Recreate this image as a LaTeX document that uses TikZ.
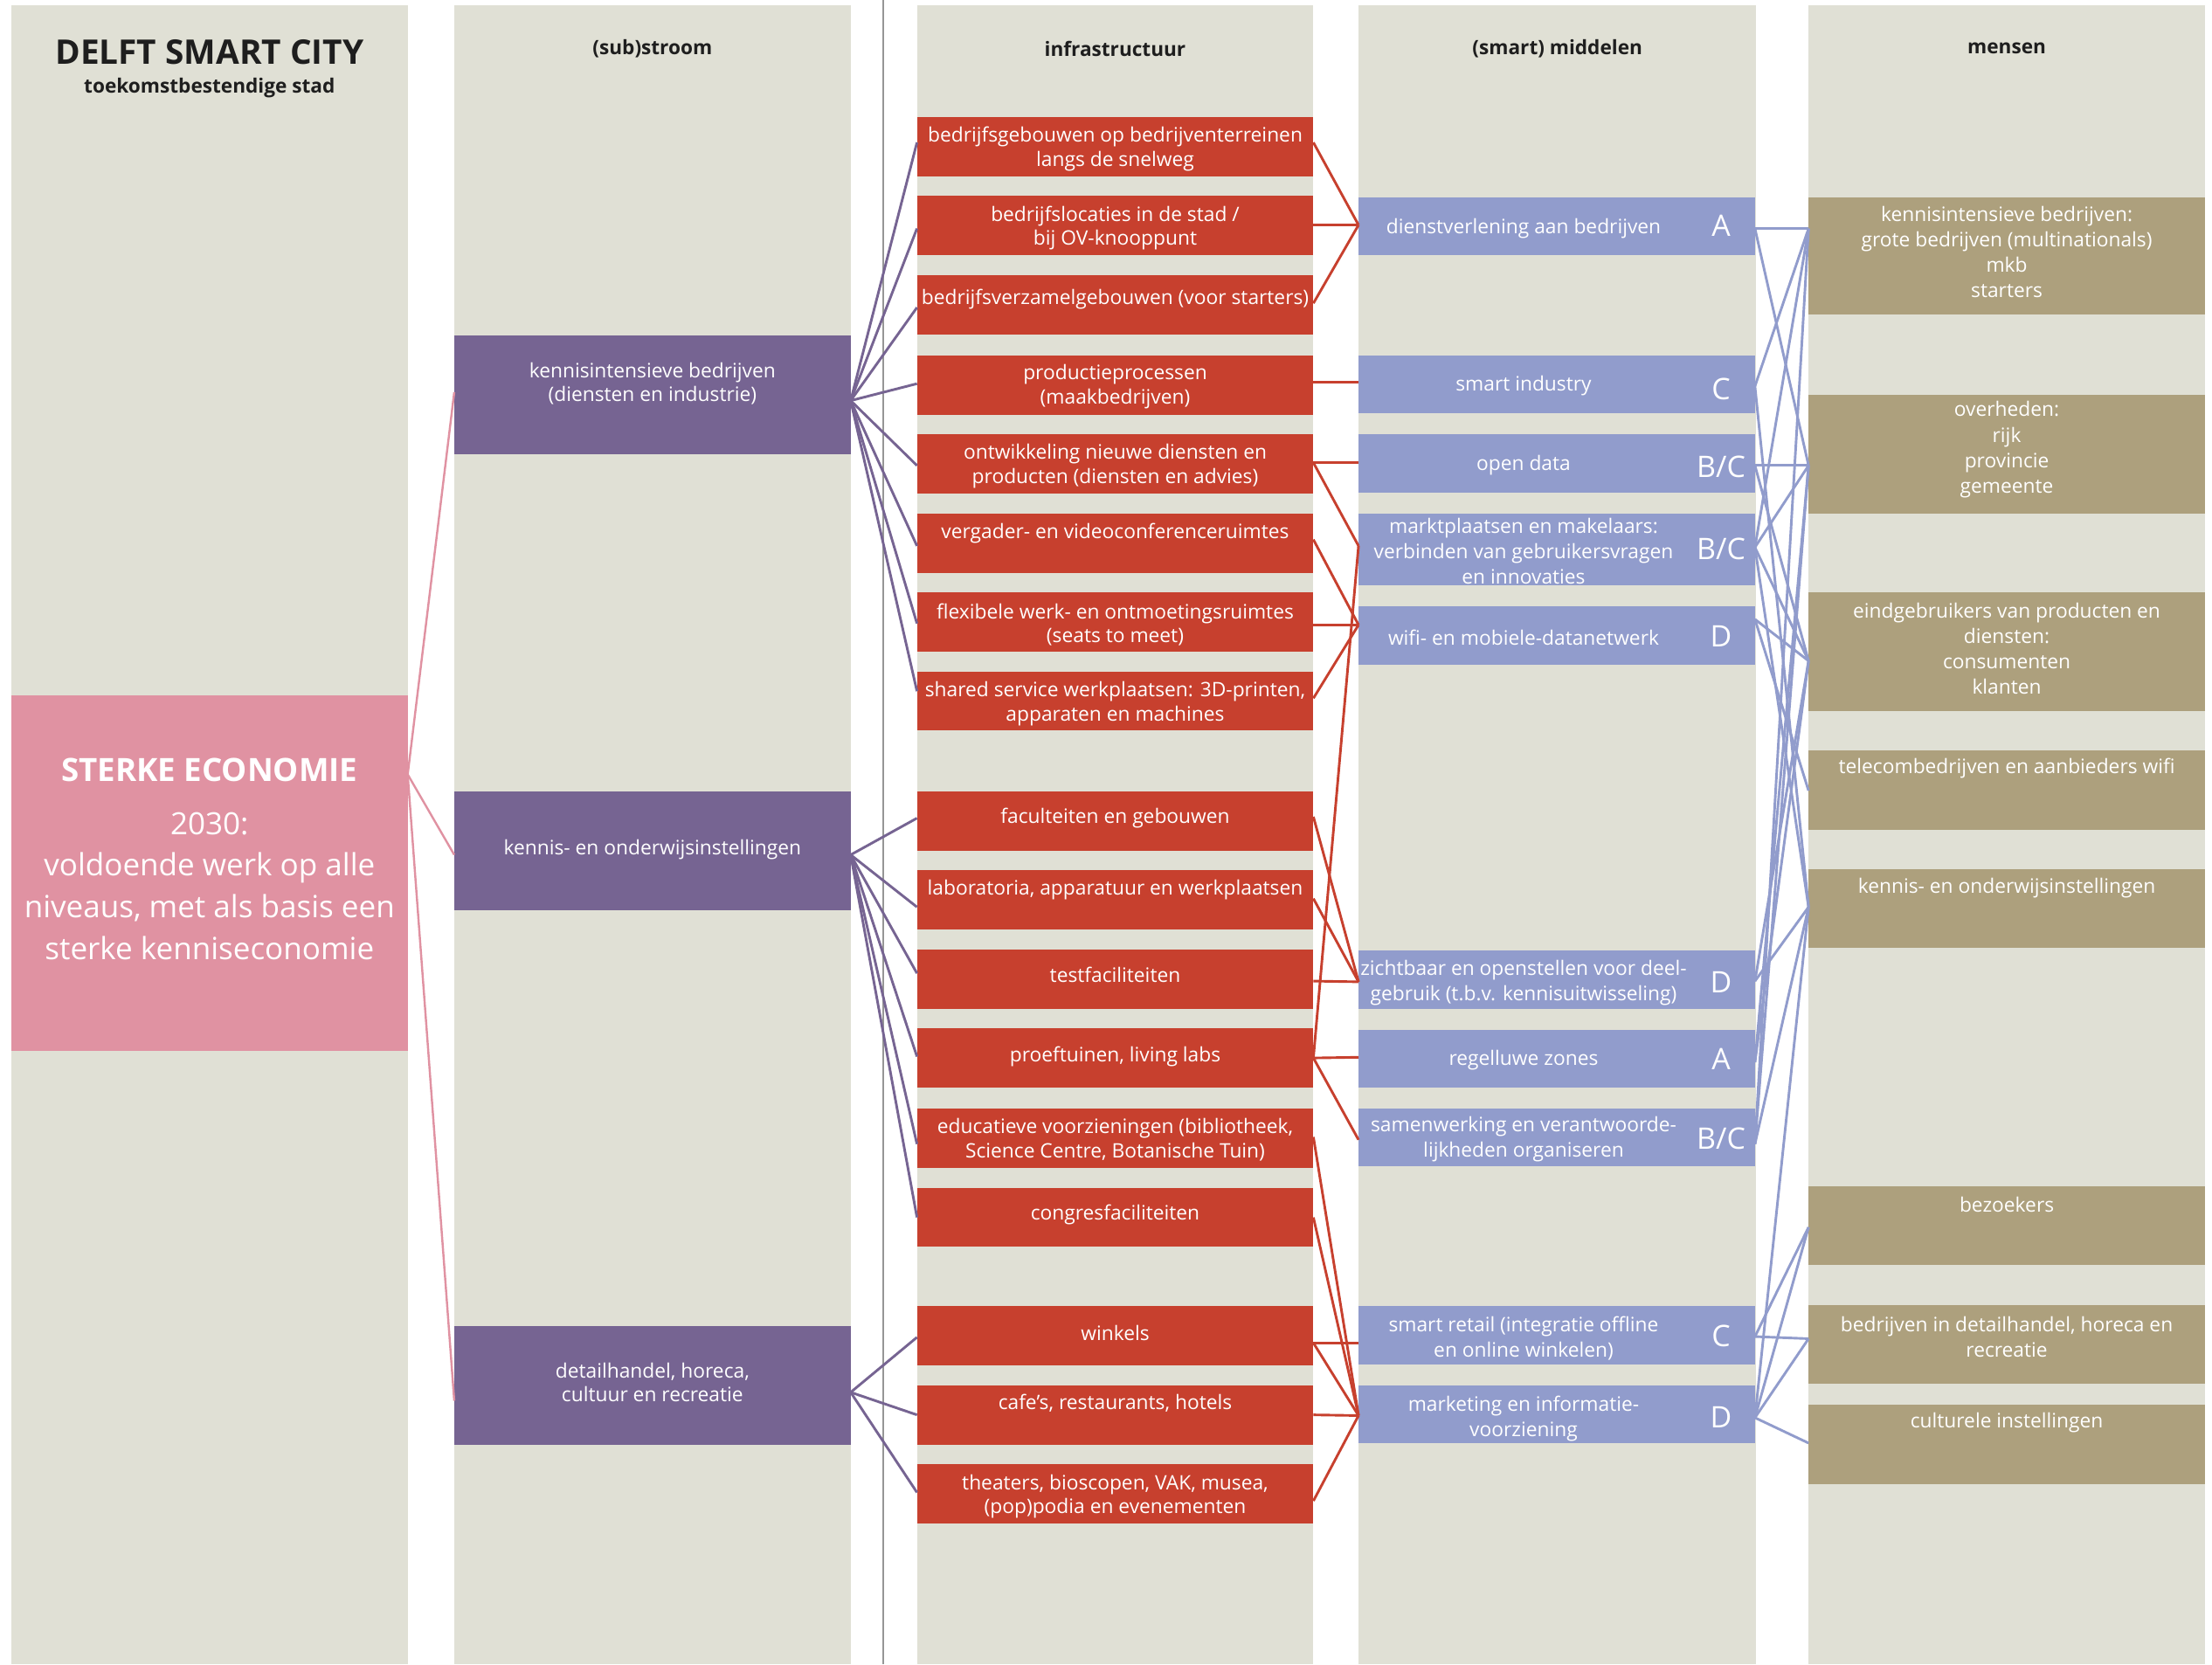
\documentclass[tikz,border=0pt]{standalone}
\usepackage{fontspec}
\setmainfont{Open Sans}
\usetikzlibrary{calc}
\definecolor{bgc}{RGB}{224,224,213}
\definecolor{pinkc}{RGB}{224,146,162}
\definecolor{purc}{RGB}{118,100,146}
\definecolor{redc}{RGB}{199,64,46}
\definecolor{bluec}{RGB}{145,156,204}
\definecolor{khac}{RGB}{173,160,125}
\definecolor{darkt}{RGB}{30,30,30}
\definecolor{vline}{RGB}{150,150,150}
\begin{document}
\begin{tikzpicture}[x=1pt,y=-1pt,
  box/.style={draw=none,minimum width=281pt,inner sep=0pt,outer sep=0pt,anchor=north west},
  redbox/.style={box,fill=redc,minimum height=42pt},
  bluebox/.style={box,fill=bluec,minimum height=41pt},
  purbox/.style={box,fill=purc,minimum height=84pt},
  khabox/.style={box,fill=khac,minimum height=56pt},
  pinkbox/.style={box,fill=pinkc,minimum height=252pt},
  wt/.style={text=white,font=\fontsize{14.1}{17}\selectfont,align=center,inner sep=0pt,yshift=-2pt},
  wtk/.style={text=white,font=\fontsize{14.1}{18}\selectfont,align=center,inner sep=0pt,yshift=-1.7pt},
  letter/.style={text=white,font=\fontsize{21}{24}\selectfont,inner sep=0pt},
  hdr/.style={text=darkt,font=\bfseries\fontsize{14}{16}\selectfont,inner sep=0pt,yshift=-1.5pt},
  redline/.style={draw=redc,line width=1.8pt},
  purline/.style={draw=purc,line width=1.8pt},
  blueline/.style={draw=bluec,line width=1.8pt},
  pinkline/.style={draw=pinkc,line width=1.5pt},
]
\useasboundingbox (0,0) rectangle (1568,1180);
\fill[white] (0,0) rectangle (1568,1180);
% column backgrounds
\fill[bgc] (8,4) rectangle (289,1180);
\fill[bgc] (322,4) rectangle (603,1180);
\fill[bgc] (650,4) rectangle (931,1180);
\fill[bgc] (963,4) rectangle (1245,1180);
\fill[bgc] (1282,4) rectangle (1563,1180);
\draw[vline,line width=1.5pt] (626,0) -- (626,1180);

% headers
\node[text=darkt,font=\bfseries\fontsize{24}{28}\selectfont,inner sep=0pt] (t1) at (148.5,37) {DELFT SMART CITY};
\node[text=darkt,font=\bfseries\fontsize{14}{16}\selectfont,inner sep=0pt] (t2) at (148.5,62.5) {toekomstbestendige stad};
\node[hdr] (h2) at (462.5,33) {(sub)stroom};
\node[hdr] (h3) at (790.5,33) {infrastructuur};
\node[hdr] (h4) at (1104,33) {(smart) middelen};
\node[hdr] (h5) at (1422.5,33) {mensen};

% pink box
\node[pinkbox] (se) at (8,493) {};
\node[text=white,font=\bfseries\fontsize{22.7}{26}\selectfont,inner sep=0pt] (se1) at (148.5,546) {STERKE ECONOMIE};
\node[text=white,font=\fontsize{21.7}{29.5}\selectfont,align=center,inner sep=0pt] (se2) at (148.5,628) {2030:\\voldoende werk op alle\\niveaus, met als basis een\\sterke kenniseconomie};

% purple boxes
\node[purbox] (k1) at (322,238) {};
\node[purbox] (k2) at (322,561) {};
\node[purbox] (k3) at (322,940) {};
\node[wt] (k1t) at (462.5,270) {kennisintensieve bedrijven\\(diensten en industrie)};
\node[wt] (k2t) at (462.5,600) {kennis- en onderwijsinstellingen};
\node[wt] (k3t) at (462.5,978) {detailhandel, horeca,\\cultuur en recreatie};

% red boxes
\node[redbox] (r1) at (650,83) {};
\node[redbox] (r2) at (650,139) {};
\node[redbox] (r3) at (650,195) {};
\node[redbox] (r4) at (650,252) {};
\node[redbox] (r5) at (650,308) {};
\node[redbox] (r6) at (650,364) {};
\node[redbox] (r7) at (650,420) {};
\node[redbox] (r8) at (650,476) {};
\node[redbox] (r9) at (650,561) {};
\node[redbox] (r10) at (650,617) {};
\node[redbox] (r11) at (650,673) {};
\node[redbox] (r12) at (650,729) {};
\node[redbox] (r13) at (650,786) {};
\node[redbox] (r14) at (650,842) {};
\node[redbox] (r15) at (650,926) {};
\node[redbox] (r16) at (650,982) {};
\node[redbox] (r17) at (650,1038) {};
\node[wt] (r1t) at (790.5,103.5) {bedrijfsgebouwen op bedrijventerreinen\\langs de snelweg};
\node[wt] (r2t) at (790.5,159.5) {bedrijfslocaties in de stad /\\bij OV-knooppunt};
\node[wt] (r3t) at (790.5,210) {bedrijfsverzamelgebouwen (voor starters)};
\node[wt] (r4t) at (790.5,272) {productieprocessen\\(maakbedrijven)};
\node[wt] (r5t) at (790.5,328.5) {ontwikkeling nieuwe diensten en\\producten (diensten en advies)};
\node[wt] (r6t) at (790.5,376) {vergader- en videoconferenceruimtes};
\node[wt] (r7t) at (790.5,441) {flexibele werk- en ontmoetingsruimtes\\(seats to meet)};
\node[wt] (r8t) at (790.5,497) {shared service werkplaatsen: 3D-printen,\\apparaten en machines};
\node[wt] (r9t) at (790.5,578) {faculteiten en gebouwen};
\node[wt] (r10t) at (790.5,629) {laboratoria, apparatuur en werkplaatsen};
\node[wt] (r11t) at (790.5,689) {testfaciliteiten};
\node[wt] (r12t) at (790.5,747) {proeftuinen, living labs};
\node[wt] (r13t) at (790.5,806) {educatieve voorzieningen (bibliotheek,\\Science Centre, Botanische Tuin)};
\node[wt] (r14t) at (790.5,859) {congresfaciliteiten};
\node[wt] (r15t) at (790.5,943) {winkels};
\node[wt] (r16t) at (790.5,993) {cafe’s, restaurants, hotels};
\node[wt] (r17t) at (790.5,1059) {theaters, bioscopen, VAK, musea,\\(pop)podia en evenementen};

% blue boxes
\node[bluebox] (b1) at (963,140) {};
\node[bluebox] (b2) at (963,252) {};
\node[bluebox] (b3) at (963,308) {};
\node[bluebox,minimum height=51pt] (b4) at (963,364) {};
\node[bluebox] (b5) at (963,430) {};
\node[bluebox] (b6) at (963,674) {};
\node[bluebox] (b7) at (963,730) {};
\node[bluebox] (b8) at (963,786) {};
\node[bluebox] (b9) at (963,926) {};
\node[bluebox] (b10) at (963,982) {};
\node[wtk] (b1t) at (1080,160) {dienstverlening aan bedrijven};
\node[wtk] (b2t) at (1080,272) {smart industry};
\node[wtk] (b3t) at (1080,328) {open data};
\node[wtk] (b4t) at (1080,389) {marktplaatsen en makelaars:\\verbinden van gebruikersvragen\\en innovaties};
\node[wtk] (b5t) at (1080,450) {wifi- en mobiele-datanetwerk};
\node[wtk] (b6t) at (1080,695) {zichtbaar en openstellen voor deel-\\gebruik (t.b.v. kennisuitwisseling)};
\node[wtk] (b7t) at (1080,750) {regelluwe zones};
\node[wtk] (b8t) at (1080,806) {samenwerking en verantwoorde-\\lijkheden organiseren};
\node[wtk] (b9t) at (1080,947) {smart retail (integratie offline\\en online winkelen)};
\node[wtk] (b10t) at (1080,1004) {marketing en informatie-\\voorziening};
\node[letter] (b1l) at (1220,160) {A};
\node[letter] (b2l) at (1220,276) {C};
\node[letter] (b3l) at (1220,331) {B/C};
\node[letter] (b4l) at (1220,389) {B/C};
\node[letter] (b5l) at (1220,451) {D};
\node[letter] (b6l) at (1220,696) {D};
\node[letter] (b7l) at (1220,751) {A};
\node[letter] (b8l) at (1220,807) {B/C};
\node[letter] (b9l) at (1220,947) {C};
\node[letter] (b10l) at (1220,1005) {D};

% khaki boxes
\node[khabox,minimum height=83pt] (m1) at (1282,140) {};
\node[khabox,minimum height=84pt] (m2) at (1282,280) {};
\node[khabox,minimum height=84pt] (m3) at (1282,420) {};
\node[khabox] (m4) at (1282,532) {};
\node[khabox] (m5) at (1282,616) {};
\node[khabox] (m6) at (1282,841) {};
\node[khabox] (m7) at (1282,925) {};
\node[khabox] (m8) at (1282,996) {};
\node[wtk] (m1t) at (1422.5,177) {kennisintensieve bedrijven:\\grote bedrijven (multinationals)\\mkb\\starters};
\node[wtk] (m2t) at (1422.5,317) {overheden:\\rijk\\provincie\\gemeente};
\node[wtk] (m3t) at (1422.5,458) {eindgebruikers van producten en\\diensten:\\consumenten\\klanten};
\node[wtk] (m4t) at (1422.5,543) {telecombedrijven en aanbieders wifi};
\node[wtk] (m5t) at (1422.5,628) {kennis- en onderwijsinstellingen};
\node[wtk] (m6t) at (1422.5,852) {bezoekers};
\node[wtk] (m7t) at (1422.5,946) {bedrijven in detailhandel, horeca en\\recreatie};
\node[wtk] (m8t) at (1422.5,1007) {culturele instellingen};

% ---------- connectors ----------
% pink
\draw[pinkline] ($(se.east)+(0,-70)$) -- ($(k1.west)+(0,-2)$);
\draw[pinkline] ($(se.east)+(0,-70)$) -- ($(k2.west)+(0,3)$);
\draw[pinkline] ($(se.east)+(0,-70)$) -- ($(k3.west)+(0,11)$);

% purple
\foreach \r/\o in {r1/-3,r2/2,r3/2,r4/-1,r5/1,r6/2,r7/1,r8/-7}
  \draw[purline] ($(k1.east)+(0,4)$) -- ($(\r.west)+(0,\o)$);
\foreach \r/\o in {r9/-2,r10/5,r11/-4,r12/-1,r13/4,r14/0}
  \draw[purline] ($(k2.east)+(0,3)$) -- ($(\r.west)+(0,\o)$);
\foreach \r/\o in {r15/1,r16/0,r17/-1}
  \draw[purline] ($(k3.east)+(0,5)$) -- ($(\r.west)+(0,\o)$);

% red
\draw[redline] ($(r1.east)+(0,-3)$) -- ($(b1.west)+(0,-1)$);
\draw[redline] ($(r2.east)+(0,-0.5)$) -- ($(b1.west)+(0,-1)$);
\draw[redline] ($(r3.east)+(0,-1)$) -- ($(b1.west)+(0,-1)$);
\draw[redline] ($(r4.east)+(0,-2)$) -- ($(b2.west)+(0,-1.5)$);
\draw[redline] ($(r5.east)+(0,-1)$) -- ($(b3.west)+(0,-0.5)$);
\draw[redline] ($(r5.east)+(0,-1)$) -- ($(b4.west)+(0,-2.5)$);
\draw[redline] ($(r6.east)+(0,-2.5)$) -- ($(b5.west)+(0,-7.5)$);
\draw[redline] ($(r7.east)+(0,2)$) -- ($(b5.west)+(0,-7.5)$);
\draw[redline] ($(r8.east)+(0,-2)$) -- ($(b5.west)+(0,-7.5)$);
\draw[redline] ($(r12.east)+(0,0)$) -- ($(b4.west)+(0,-2.5)$);
\draw[redline] ($(r9.east)+(0,-3)$) -- ($(b6.west)+(0,1.5)$);
\draw[redline] ($(r10.east)+(0,-1)$) -- ($(b6.west)+(0,1.5)$);
\draw[redline] ($(r11.east)+(0,1.5)$) -- ($(b6.west)+(0,1.5)$);
\draw[redline] ($(r12.east)+(0,0)$) -- ($(b7.west)+(0,-1)$);
\draw[redline] ($(r12.east)+(0,0)$) -- ($(b8.west)+(0,1.5)$);
\draw[redline] ($(r13.east)+(0,-1)$) -- ($(b10.west)+(0,1)$);
\draw[redline] ($(r14.east)+(0,0)$) -- ($(b10.west)+(0,1)$);
\draw[redline] ($(r15.east)+(0,5)$) -- ($(b9.west)+(0,5.5)$);
\draw[redline] ($(r15.east)+(0,5)$) -- ($(b10.west)+(0,1)$);
\draw[redline] ($(r16.east)+(0,0)$) -- ($(b10.west)+(0,1)$);
\draw[redline] ($(r17.east)+(0,5)$) -- ($(b10.west)+(0,1)$);

% blue
\coordinate (b1e) at ($(b1.east)+(0,1.5)$);
\coordinate (b2e) at ($(b2.east)+(0,1.3)$);
\coordinate (b3e) at ($(b3.east)+(0,1.5)$);
\coordinate (b4e) at ($(b4.east)+(0,-1.5)$);
\coordinate (b5e) at ($(b5.east)+(0,-11.5)$);
\coordinate (b6e) at ($(b6.east)+(0,1)$);
\coordinate (b7e) at ($(b7.east)+(0,2.5)$);
\coordinate (b8e) at ($(b8.east)+(0,4.5)$);
\coordinate (b9e) at ($(b9.east)+(0,1)$);
\coordinate (b10e) at ($(b10.east)+(0,2.5)$);
\coordinate (m1w) at ($(m1.west)+(0,-19.5)$);
\coordinate (m2w) at ($(m2.west)+(0,8)$);
\coordinate (m3w) at ($(m3.west)+(0,6.5)$);
\coordinate (m4w) at ($(m4.west)+(0,0.5)$);
\coordinate (m5w) at ($(m5.west)+(0,-1)$);
\coordinate (m6w) at ($(m6.west)+(0,1)$);
\coordinate (m7w) at ($(m7.west)+(0,-4)$);
\coordinate (m8w) at ($(m8.west)+(0,-1)$);
\foreach \a/\b in {b1e/m1w,b1e/m2w,b2e/m1w,b2e/m5w,b3e/m2w,b3e/m3w,
  b4e/m1w,b4e/m2w,b4e/m3w,b4e/m5w,b5e/m4w,b5e/m3w,b6e/m5w,b6e/m3w,
  b7e/m3w,b7e/m2w,b8e/m1w,b8e/m2w,b8e/m5w,b9e/m6w,b9e/m7w,
  b10e/m6w,b10e/m7w,b10e/m8w,b10e/m5w}
  \draw[blueline] (\a) -- (\b);
\end{tikzpicture}
\end{document}
